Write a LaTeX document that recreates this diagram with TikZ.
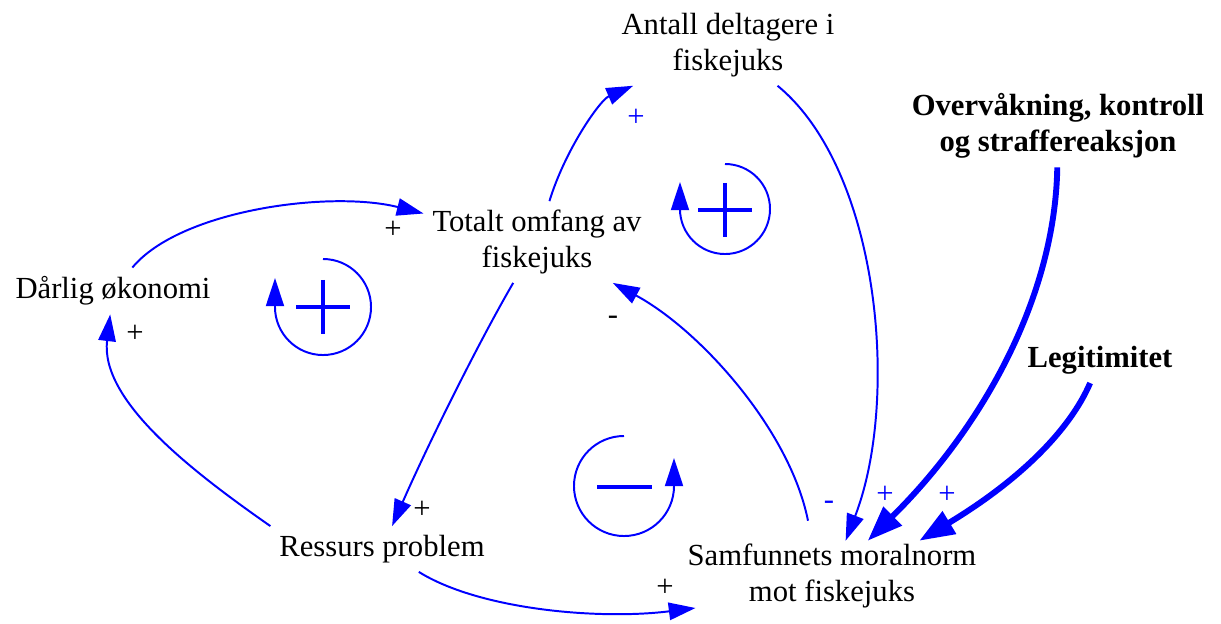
\documentclass[tikz,border=0pt]{standalone}
\usepackage{fontspec}
\setmainfont{Liberation Serif}
\usetikzlibrary{arrows.meta}
\begin{document}
\begin{tikzpicture}[x=0.0125cm, y=-0.0125cm,
  font=\fontsize{10.9}{12.7}\selectfont,
  var/.style={align=center, inner sep=3pt},
  link/.style={draw=blue, line width=0.7pt, -{Triangle[length=9.5pt, width=6.2pt]}},
  strong/.style={draw=blue, line width=2.1pt, -{Triangle[length=12.5pt, width=9pt]}},
  sign/.style={inner sep=1pt},
  loopline/.style={draw=blue, line width=0.7pt, -{Triangle[length=10pt, width=6.4pt]}},
  loopsign/.style={draw=blue, line width=1.4pt}]
\useasboundingbox (0,0) rectangle (1221,624);
% variables (coordinates in pixels of the original, y downwards)
\node[var] (ant) at (728,45) {Antall deltagere i\\fiskejuks};
\node[var, font=\fontsize{10.9}{12.7}\selectfont\bfseries] (ove) at (1058,126) {Overvåkning, kontroll\\og straffereaksjon};
\node[var] (tot) at (537,242) {Totalt omfang av\\fiskejuks};
\node[var] (dar) at (113,291) {Dårlig økonomi};
\node[var, font=\fontsize{10.9}{12.7}\selectfont\bfseries] (leg) at (1100,360) {Legitimitet};
\node[var] (res) at (382,549) {Ressurs problem};
\node[var, inner sep=1pt] (sam) at (832,576) {Samfunnets moralnorm\\mot fiskejuks};
% causal links
\draw[link] (dar) .. controls (180,210) and (330,190) .. (tot);
\draw[link] (tot) .. controls (565,150) and (600,100) .. (ant);
\draw[link] (ant) .. controls (880,170) and (900,400) .. (sam);
\draw[link] ([xshift=-0.3cm, yshift=0.25cm]sam.north) .. controls (790,430) and (700,330) .. (tot);
\draw[link] (tot) .. controls (480,340) and (430,440) .. (res);
\draw[link] (res.north west) .. controls (190,470) and (100,400) .. (dar);
\draw[link] (res) .. controls (480,610) and (600,620) .. ([xshift=0.14cm, yshift=-0.4cm]sam.west);
\draw[strong] (ove) .. controls (1055,300) and (980,430) .. (sam);
\draw[strong] (leg) .. controls (1070,430) and (1020,480) .. (sam.22);
% polarities
\node[sign] (p1) at (393,230) {+};
\node[sign, text=blue] (p2) at (636,118) {+};
\node[sign, text=blue] (p3) at (829,505) {-};
\node[sign] (p4) at (613,320) {-};
\node[sign] (p5) at (422,510) {+};
\node[sign] (p6) at (135,334) {+};
\node[sign] (p7) at (665,588) {+};
\node[sign, text=blue] (p8) at (885,495) {+};
\node[sign, text=blue] (p9) at (947,495) {+};
% loop markers
\draw[loopline] (323,259) arc[start angle=90, end angle=-180, radius=0.6cm] -- ++(0,-29);
\draw[loopsign] (296,307) -- (350,307) (323,280) -- (323,334);
\draw[loopline] (725,164) arc[start angle=90, end angle=-180, radius=0.5625cm] -- ++(0,-27);
\draw[loopsign] (698,210) -- (752,210) (725,183) -- (725,237);
\draw[loopline] (624,436) arc[start angle=90, end angle=360, radius=0.625cm] -- ++(0,-28);
\draw[loopsign] (597,487) -- (652,487);
\end{tikzpicture}
\end{document}
